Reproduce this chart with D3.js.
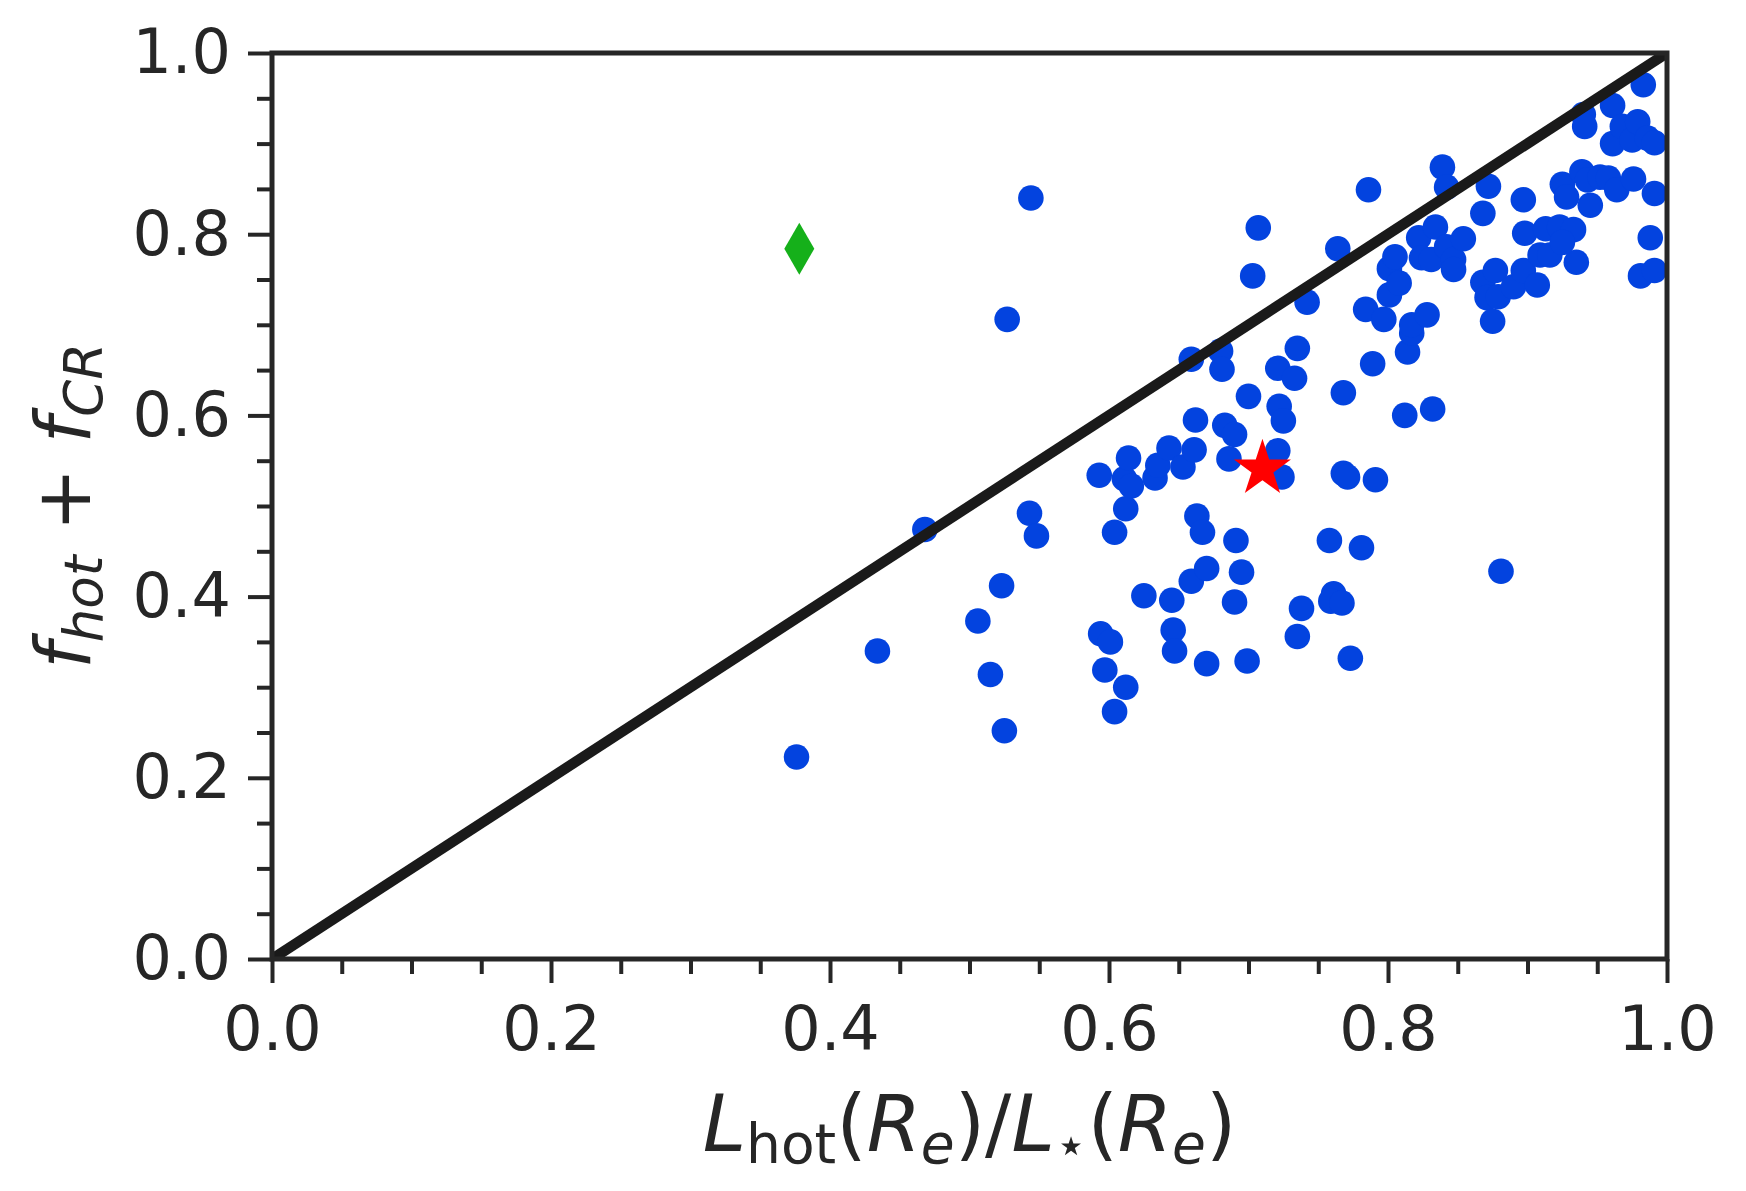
<!DOCTYPE html>
<html>
<head>
<meta charset="utf-8">
<script src="https://cdn.jsdelivr.net/npm/d3@7"></script>
<style>
  body { margin: 0; background: #fff; }
  text { font-family: "DejaVu Sans", sans-serif; fill: #262626; }
</style>
</head>
<body>
<svg id="chart"></svg>
<script>
// L_hot(Re)/L*(Re) for each galaxy
const lumRatio = [
  0.376, 0.434, 0.468, 0.506, 0.515, 0.523, 0.525, 0.527, 0.544, 0.543,
  0.548, 0.593, 0.594, 0.597, 0.601, 0.604, 0.604, 0.612, 0.612, 0.611,
  0.614, 0.616, 0.625, 0.633, 0.635, 0.643, 0.645, 0.646, 0.647, 0.653,
  0.659, 0.659, 0.661, 0.662, 0.663, 0.667, 0.670, 0.670, 0.680, 0.681,
  0.683, 0.686, 0.690, 0.691, 0.690, 0.695, 0.699, 0.700, 0.703, 0.707,
  0.721, 0.721, 0.722, 0.725, 0.724, 0.733, 0.735, 0.735, 0.738, 0.742,
  0.758, 0.761, 0.759, 0.764, 0.767, 0.768, 0.768, 0.771, 0.773, 0.781,
  0.784, 0.786, 0.789, 0.791, 0.797, 0.801, 0.801, 0.805, 0.808, 0.812,
  0.814, 0.817, 0.817, 0.822, 0.824, 0.828, 0.832, 0.831, 0.834, 0.839,
  0.842, 0.842, 0.847, 0.847, 0.854, 0.868, 0.868, 0.871, 0.872, 0.875,
  0.877, 0.879, 0.881, 0.890, 0.897, 0.898, 0.897, 0.907, 0.909, 0.913,
  0.916, 0.925, 0.928, 0.923, 0.933, 0.935, 0.940, 0.941, 0.939, 0.943,
  0.945, 0.952, 0.958, 0.961, 0.961, 0.964, 0.968, 0.975, 0.976, 0.979,
  0.983, 0.981, 0.986, 0.988, 0.991, 0.991, 0.991, 0.925
];

// f_hot + f_CR for each galaxy
const hotCrFrac = [
  0.223, 0.340, 0.474, 0.373, 0.314, 0.412, 0.252, 0.706, 0.840, 0.492,
  0.467, 0.534, 0.359, 0.319, 0.350, 0.471, 0.273, 0.300, 0.497, 0.530,
  0.553, 0.522, 0.401, 0.531, 0.545, 0.564, 0.396, 0.363, 0.340, 0.543,
  0.662, 0.417, 0.562, 0.595, 0.489, 0.471, 0.431, 0.326, 0.671, 0.651,
  0.589, 0.552, 0.394, 0.462, 0.579, 0.427, 0.329, 0.621, 0.754, 0.807,
  0.652, 0.561, 0.610, 0.594, 0.532, 0.641, 0.674, 0.356, 0.387, 0.725,
  0.462, 0.403, 0.395, 0.784, 0.393, 0.625, 0.536, 0.532, 0.332, 0.454,
  0.717, 0.849, 0.657, 0.529, 0.706, 0.733, 0.762, 0.775, 0.746, 0.600,
  0.670, 0.691, 0.700, 0.796, 0.774, 0.711, 0.607, 0.772, 0.808, 0.874,
  0.786, 0.852, 0.772, 0.761, 0.795, 0.823, 0.747, 0.730, 0.853, 0.704,
  0.760, 0.731, 0.428, 0.742, 0.838, 0.801, 0.760, 0.744, 0.777, 0.806,
  0.777, 0.855, 0.841, 0.808, 0.805, 0.769, 0.932, 0.919, 0.869, 0.860,
  0.832, 0.863, 0.862, 0.942, 0.900, 0.849, 0.919, 0.904, 0.861, 0.924,
  0.965, 0.754, 0.906, 0.796, 0.901, 0.845, 0.760, 0.791
];

const starPoint = [0.710, 0.541];
const diamondPoint = [0.378, 0.784];
const oneToOne = [[0, 0], [1, 1]];

const majorTicks = [0, 0.2, 0.4, 0.6, 0.8, 1.0];
const minorTicks = [0.05, 0.1, 0.15, 0.25, 0.3, 0.35, 0.45, 0.5, 0.55, 0.65, 0.7, 0.75, 0.85, 0.9, 0.95];

const svgWidth = 1746,
    svgHeight = 1191,
    margin = {top: 53, right: 79, bottom: 232, left: 272},
    width = svgWidth - margin.left - margin.right,
    height = svgHeight - margin.top - margin.bottom;

const ink = "#262626";

const chart = d3.select("#chart")
    .attr("width", svgWidth)
    .attr("height", svgHeight);

chart.append("rect")
    .attr("width", svgWidth)
    .attr("height", svgHeight)
    .attr("fill", "#fff");

const inner = chart.append("g")
    .attr("transform", `translate(${margin.left},${margin.top})`);

inner.append("clipPath").attr("id", "plotclip")
    .append("rect")
    .attr("width", width)
    .attr("height", height);

var xScale = d3.scaleLinear().domain([0, 1]).range([0, width]);
var yScale = d3.scaleLinear().domain([0, 1]).range([height, 0]);

// minor ticks first, majors with labels on top
inner.append("g")
    .attr("transform", `translate(0,${height})`)
    .call(d3.axisBottom(xScale).tickValues(minorTicks).tickSize(15).tickFormat(""));
inner.append("g")
    .call(d3.axisLeft(yScale).tickValues(minorTicks).tickSize(15).tickFormat(""));

inner.append("g")
    .attr("class", "xaxis")
    .attr("transform", `translate(0,${height})`)
    .call(d3.axisBottom(xScale).tickValues(majorTicks).tickSize(24).tickPadding(23).tickFormat(d3.format(".1f")));
inner.append("g")
    .attr("class", "yaxis")
    .call(d3.axisLeft(yScale).tickValues(majorTicks).tickSize(24).tickPadding(17).tickFormat(d3.format(".1f")));

inner.selectAll(".domain").remove();
inner.selectAll(".tick line").attr("stroke", ink).attr("stroke-width", 4);
inner.selectAll(".tick text")
    .attr("font-size", 62)
    .attr("font-family", "DejaVu Sans")
    .attr("fill", ink);

const plot = inner.append("g").attr("clip-path", "url(#plotclip)");

plot.selectAll(".dot")
    .data(d3.range(lumRatio.length))
    .enter()
    .append("circle")
    .attr("class", "dot")
    .attr("cx", i => xScale(lumRatio[i]))
    .attr("cy", i => yScale(hotCrFrac[i]))
    .attr("r", 12.8)
    .attr("fill", "#0343df");

var valueline = d3.line()
    .x(d => xScale(d[0]))
    .y(d => yScale(d[1]));

plot.append("path")
    .datum(oneToOne)
    .attr("d", valueline)
    .attr("fill", "none")
    .attr("stroke", "#1a1a1a")
    .attr("stroke-width", 10.5);

plot.append("path")
    .attr("d", d3.symbol(d3.symbolStar, 1010)())
    .attr("transform", `translate(${xScale(starPoint[0])},${yScale(starPoint[1])})`)
    .attr("fill", "#ff0000");

plot.append("path")
    .attr("d", d3.symbol(d3.symbolDiamond, 780)())
    .attr("transform", `translate(${xScale(diamondPoint[0])},${yScale(diamondPoint[1])})`)
    .attr("fill", "#15b01a");

// axes frame
inner.append("rect")
    .attr("width", width)
    .attr("height", height)
    .attr("fill", "none")
    .attr("stroke", ink)
    .attr("stroke-width", 5);

// x label: L_hot(R_e)/L_*(R_e)
const xl = chart.append("text")
    .attr("x", margin.left + width / 2)
    .attr("y", 1151)
    .attr("text-anchor", "middle")
    .attr("font-size", 78);
const sub = 12;
xl.append("tspan").attr("font-style", "italic").text("L");
xl.append("tspan").attr("font-size", 55).attr("dy", sub).text("hot");
xl.append("tspan").attr("dy", -sub).text("(");
xl.append("tspan").attr("font-style", "italic").text("R");
xl.append("tspan").attr("font-style", "italic").attr("font-size", 55).attr("dy", sub).text("e");
xl.append("tspan").attr("dy", -sub).text(")/");
xl.append("tspan").attr("font-style", "italic").text("L");
xl.append("tspan").attr("font-size", 52).attr("dy", sub).text("\u22C6");
xl.append("tspan").attr("dy", -sub).text("(");
xl.append("tspan").attr("font-style", "italic").text("R");
xl.append("tspan").attr("font-style", "italic").attr("font-size", 55).attr("dy", sub).text("e");
xl.append("tspan").attr("dy", -sub).text(")");

// y label: f_hot + f_CR
const yl = chart.append("text")
    .attr("transform", `translate(90,${margin.top + height / 2}) rotate(-90)`)
    .attr("text-anchor", "middle")
    .attr("font-size", 76);
yl.append("tspan").attr("font-style", "italic").text("f");
yl.append("tspan").attr("font-style", "italic").attr("font-size", 53).attr("dy", sub).text("hot");
yl.append("tspan").attr("dy", -sub).text(" + ");
yl.append("tspan").attr("font-style", "italic").text("f");
yl.append("tspan").attr("font-style", "italic").attr("font-size", 53).attr("dy", sub).text("CR");
</script>
</body>
</html>
